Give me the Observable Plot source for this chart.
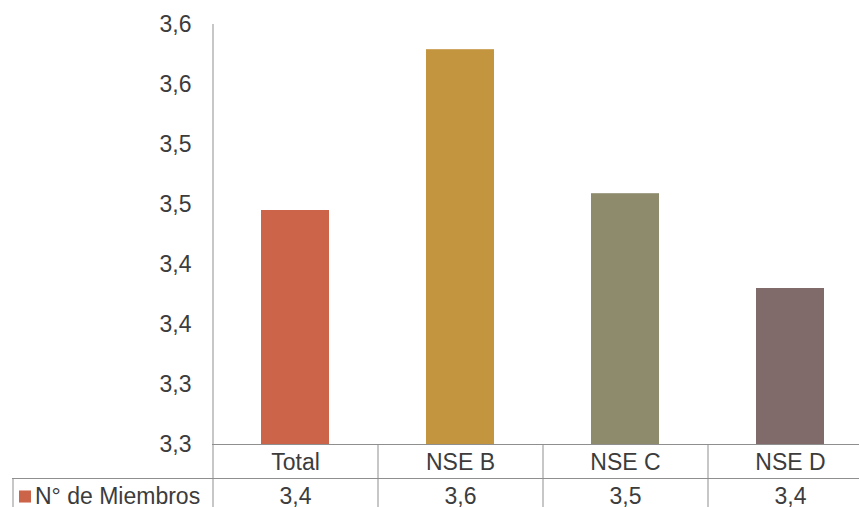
<!DOCTYPE html>
<html>
<head>
<meta charset="utf-8">
<script src="https://cdn.jsdelivr.net/npm/d3@7"></script>
<script src="https://cdn.jsdelivr.net/npm/@observablehq/plot@0.6"></script>
<style>
  html, body { margin: 0; padding: 0; background: #fff; overflow: hidden; }
</style>
</head>
<body>
<div id="chart"></div>
<script>
const categories = ["Total", "NSE B", "NSE C", "NSE D"];
const values = [3.445, 3.579, 3.459, 3.380];
const tableValues = ["3,4", "3,6", "3,5", "3,4"];
const colors = ["#CB6449", "#C4953F", "#8D8B6B", "#806B6A"];
const yTicks = [3.25, 3.30, 3.35, 3.40, 3.45, 3.50, 3.55, 3.60];
const yTickLabels = ["3,3", "3,3", "3,4", "3,4", "3,5", "3,5", "3,6", "3,6"];
const seriesName = "N° de Miembros";

(function () {
const data = categories.map((c, i) => ({category: c, value: values[i], label: tableValues[i]}));

const W = 859, H = 507;
const padL = 212, padR = 872, padT = 24, padB = 444;
const step = (padR - padL) / categories.length;
const lineColor = "#8f8f8f";
const textColor = "#3c3c3c";
const fs = 23;

const chart = Plot.plot({
  width: W,
  height: H,
  marginLeft: padL,
  marginRight: 0,
  marginTop: padT,
  marginBottom: H - padB,
  style: {fontFamily: "'Liberation Sans', Arial, sans-serif", fontSize: fs + "px", color: textColor, background: "white"},
  x: {domain: categories, range: [padL, padR], paddingInner: 0.59, paddingOuter: 0.295, axis: null},
  y: {domain: [3.25, 3.60], axis: null},
  color: {domain: categories, range: colors},
  marks: [
    Plot.barY(data, {x: "category", y1: 3.25, y2: "value", fill: "category"}),
    Plot.axisY(yTicks, {tickSize: 0, tickPadding: 21, label: null, tickFormat: d => yTickLabels[yTicks.indexOf(d)], fontSize: fs}),
    Plot.ruleX([categories[0]], {x: d => d, dx: -step / 2, stroke: lineColor, insetBottom: -(H - padB)}),
    Plot.ruleX(categories.slice(1), {x: d => d, dx: -step / 2, stroke: lineColor, insetTop: padB - padT, insetBottom: -(H - padB)}),
    Plot.ruleX([categories[0]], {x: d => d, dx: 12 - (padL + step / 2), stroke: lineColor, insetTop: padB - padT + 34, insetBottom: -(H - padB)}),
    Plot.ruleY([3.25], {stroke: lineColor}),
    Plot.ruleY([3.25], {stroke: lineColor, dy: 34, insetLeft: -(padL - 12)}),
    Plot.text(data, {x: "category", frameAnchor: "bottom", lineAnchor: "middle", dy: 18, text: "category", fontSize: fs}),
    Plot.text(data, {x: "category", frameAnchor: "bottom", lineAnchor: "middle", dy: 52, text: "label", fontSize: fs}),
    Plot.dot([seriesName], {x: () => categories[0], frameAnchor: "bottom", dy: 52, dx: 24 - (padL + step / 2), symbol: "square", r: 6.8, fill: colors[0], stroke: "none"}),
    Plot.text([seriesName], {x: () => categories[0], frameAnchor: "bottom", lineAnchor: "middle", dy: 52, dx: 34 - (padL + step / 2), textAnchor: "start", text: d => d, fontSize: fs})
  ]
});
document.getElementById("chart").appendChild(chart);
})();
</script>
</body>
</html>
